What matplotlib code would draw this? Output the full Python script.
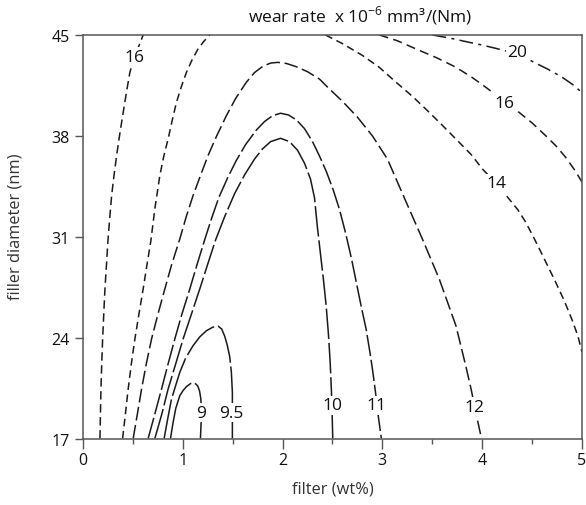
import matplotlib
matplotlib.use("Agg")
import matplotlib.pyplot as plt
from matplotlib.ticker import MultipleLocator

plt.rcParams['font.family'] = ['Open Sans', 'DejaVu Sans']
plt.rcParams['mathtext.fontset'] = 'custom'
plt.rcParams['mathtext.rm'] = 'Open Sans'

# contour lines of wear rate (filter wt%, diameter nm)
c9_x = [0.877, 0.90, 0.93, 0.97, 1.005, 1.037, 1.08, 1.12, 1.15, 1.168, 1.18, 1.187, 1.185, 1.177]
c9_y = [17.0, 18.0, 19.1, 19.97, 20.35, 20.6, 20.82, 20.85, 20.65, 20.3, 19.8, 19.2, 18.3, 17.0]

c95_x = [0.813, 0.85, 0.887, 0.93, 0.97, 1.03, 1.103, 1.17, 1.237, 1.30, 1.353, 1.39,
         1.42, 1.445, 1.47, 1.487, 1.497, 1.497]
c95_y = [17.0, 18.4, 19.74, 20.7, 21.59, 22.6, 23.44, 24.05, 24.48, 24.72, 24.8, 24.6,
         24.1, 23.5, 22.7, 21.6, 20.2, 17.0]

c10_x = [0.72, 0.79, 0.853, 0.93, 1.003, 1.09, 1.17, 1.25, 1.33, 1.42, 1.52, 1.62, 1.72,
         1.80, 1.88, 1.98, 2.07, 2.15, 2.22, 2.28, 2.32, 2.35, 2.38, 2.41, 2.437, 2.46,
         2.477, 2.49, 2.497, 2.503]
c10_y = [17.0, 18.7, 20.43, 22.2, 23.9, 25.7, 27.37, 29.1, 30.8, 32.4, 34.0, 35.3, 36.4,
         37.1, 37.6, 37.83, 37.6, 37.0, 36.1, 35.0, 33.7, 31.6, 29.8, 28.0, 26.2, 24.2,
         22.3, 20.2, 18.6, 17.0]

c11_x = [0.653, 0.72, 0.787, 0.85, 0.92, 0.99, 1.07, 1.14, 1.22, 1.29, 1.36, 1.45, 1.537,
         1.63, 1.737, 1.82, 1.90, 1.98, 2.06, 2.14, 2.22, 2.30, 2.37, 2.44, 2.51, 2.57,
         2.63, 2.69, 2.74, 2.79, 2.837, 2.875, 2.905, 2.935, 2.96, 2.99]
c11_y = [17.0, 18.7, 20.43, 22.1, 23.9, 25.6, 27.37, 29.0, 30.8, 32.3, 33.7, 35.1, 36.3,
         37.4, 38.4, 39.0, 39.4, 39.57, 39.45, 39.1, 38.5, 37.6, 36.6, 35.5, 34.2, 32.9,
         31.3, 29.5, 27.8, 26.1, 24.6, 23.0, 21.6, 20.0, 18.5, 17.0]

c12_x = [0.503, 0.545, 0.587, 0.635, 0.687, 0.75, 0.82, 0.89, 0.97, 1.035, 1.103, 1.18,
         1.253, 1.34, 1.437, 1.53, 1.637, 1.72, 1.803, 1.88, 1.953, 2.04, 2.137, 2.25,
         2.37, 2.47, 2.6, 2.75, 2.9, 3.05, 3.22, 3.41, 3.57, 3.737, 3.837, 3.89, 3.94, 3.993]
c12_y = [17.0, 18.7, 20.43, 22.2, 23.9, 25.6, 27.37, 29.1, 30.84, 32.4, 33.85, 35.3,
         36.63, 38.0, 39.4, 40.6, 41.72, 42.4, 42.83, 43.05, 43.1, 43.02, 42.8, 42.45,
         41.94, 41.25, 40.4, 39.3, 38.0, 36.4, 33.7, 30.7, 28.07, 24.83, 22.0, 20.4, 18.7, 17.0]

c14a_x = [0.397, 0.425, 0.453, 0.485, 0.52, 0.56, 0.603, 0.64, 0.68, 0.72, 0.77, 0.81,
          0.853, 0.895, 0.937, 0.985, 1.037, 1.095, 1.153, 1.21, 1.27]
c14a_y = [17.0, 18.7, 20.43, 22.2, 23.9, 25.6, 27.37, 29.0, 30.7, 32.93, 35.24, 36.6,
          37.78, 39.1, 40.33, 41.4, 42.41, 43.3, 44.03, 44.55, 45.0]

c14b_x = [2.43, 2.6, 2.803, 2.97, 3.137, 3.3, 3.47, 3.62, 3.77, 3.89, 4.003, 4.14, 4.27,
          4.36, 4.437, 4.52, 4.62, 4.737, 4.82, 4.903, 4.96, 5.0]
c14b_y = [45.0, 44.4, 43.57, 42.75, 41.72, 40.75, 39.63, 38.6, 37.55, 36.7, 35.70, 34.7,
          33.62, 32.85, 32.0, 30.9, 29.5, 27.84, 26.6, 25.2, 24.1, 23.0]

c16a_x = [0.17, 0.175, 0.18, 0.188, 0.197, 0.208, 0.22, 0.235, 0.25, 0.268, 0.287, 0.31,
          0.337, 0.368, 0.403, 0.435, 0.47, 0.52, 0.57, 0.603]
c16a_y = [17.0, 18.7, 20.43, 22.2, 23.9, 25.6, 27.37, 29.0, 30.7, 32.3, 33.85, 35.2,
          36.63, 38.1, 39.63, 41.0, 42.41, 43.6, 44.4, 45.0]

c16b_x = [2.97, 3.15, 3.337, 3.55, 3.737, 3.9, 4.037, 4.22, 4.37, 4.5, 4.637, 4.74, 4.837,
          4.93, 5.0]
c16b_y = [45.0, 44.6, 44.03, 43.4, 42.76, 42.05, 41.37, 40.4, 39.63, 38.9, 38.01, 37.3,
          36.51, 35.6, 34.8]

c20_x = [3.503, 3.7, 3.87, 4.0, 4.137, 4.25, 4.35, 4.44, 4.52, 4.66, 4.803, 4.91, 5.0]
c20_y = [45.0, 44.75, 44.49, 44.3, 44.07, 43.87, 43.65, 43.4, 43.1, 42.62, 42.06, 41.55, 41.0]

lines = [
    (c9_x, c9_y, (40, 2.5)),
    (c95_x, c95_y, (26, 2.5)),
    (c10_x, c10_y, (20, 2.5)),
    (c11_x, c11_y, (14, 2.5)),
    (c12_x, c12_y, (9, 3)),
    (c14a_x, c14a_y, (5, 3)),
    (c14b_x, c14b_y, (5, 3)),
    (c16a_x, c16a_y, (5.5, 3)),
    (c16b_x, c16b_y, (6, 3.5)),
    (c20_x, c20_y, (9, 3.5, 2, 3.5)),
]

# inline labels
labels = ["16", "9", "9.5", "10", "11", "12", "14", "16", "20"]
label_x = [0.52, 1.187, 1.49, 2.50, 2.94, 3.92, 4.14, 4.22, 4.35]
label_y = [43.5, 18.8, 18.8, 19.3, 19.3, 19.2, 34.7, 40.3, 43.8]

fig = plt.figure(figsize=(5.86, 5.06), dpi=100)
ax = fig.add_axes([0.1416, 0.1314, 0.8515, 0.7975])

for xs, ys, d in lines:
    ax.plot(xs, ys, color='#1a1a1a', lw=1.1, dashes=d, dash_capstyle='butt')

for t, x, y in zip(labels, label_x, label_y):
    ax.text(x, y, t, fontsize=12.5, ha='center', va='center', color='#111',
            bbox=dict(facecolor='white', edgecolor='none', pad=1.0))

ax.set_xlim(0, 5)
ax.set_ylim(17, 45)
ax.set_xticks(range(6))
ax.xaxis.set_minor_locator(MultipleLocator(0.5))
ax.set_yticks([17, 24, 31, 38, 45])
ax.tick_params(which='major', direction='out', width=1, color='#555',
               labelsize=11.5, labelcolor='#111', pad=3)
ax.tick_params(axis='x', which='major', length=7)
ax.tick_params(axis='y', which='major', length=5.5, pad=4)
ax.tick_params(which='minor', direction='out', length=3.5, width=1, color='#555')
for s in ax.spines.values():
    s.set_color('#555')
    s.set_linewidth(1.1)

ax.set_xlabel('filter (wt%)', fontsize=11.8, color='#333')
ax.set_ylabel('filler diameter (nm)', fontsize=11.8, color='#333')
ax.xaxis.set_label_coords(0.5, -0.105)
ax.yaxis.set_label_coords(-0.12, 0.527)

fig.text(0.614, 0.969, r'wear rate  x 10$^{\mathregular{-6}}$ mm³/(Nm)',
         fontsize=12.5, ha='center', va='center', color='#111')

fig.savefig('out.png', dpi=100)
